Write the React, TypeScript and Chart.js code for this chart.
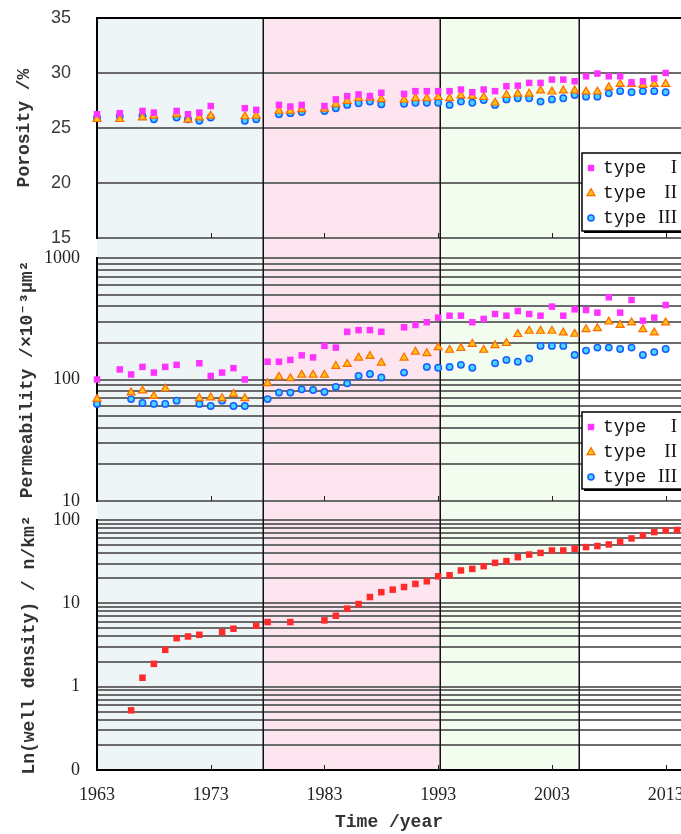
import React, { useEffect, useRef } from 'react';
import { Chart, registerables } from 'chart.js';

Chart.register(...registerables);

// ---------------- data ----------------
const X_MIN = 1963;
const X_MAX = 2014.35;
const xTickYears = [1963, 1973, 1983, 1993, 2003, 2013];
const periodBounds = [1963, 1977.6, 1993.2, 2005.4];
const periodColors = ['#edf5f6', '#fde5f0', '#f2fcef'];

const seriesNames = ['type Ⅰ', 'type Ⅱ', 'type Ⅲ'];
const seriesWords = ['type', 'type', 'type'];
const seriesNumerals = ['I', 'II', 'III'];

const porosityYears = [
  1963, 1965, 1967, 1968, 1970, 1971, 1972, 1973, 1976, 1977, 1979, 1980, 1981, 1983, 1984,
  1985, 1986, 1987, 1988, 1990, 1991, 1992, 1993, 1994, 1995, 1996, 1997, 1998, 1999, 2000,
  2001, 2002, 2003, 2004, 2005, 2006, 2007, 2008, 2009, 2010, 2011, 2012, 2013,
];
const porosityI = [
  26.25, 26.35, 26.55, 26.4, 26.55, 26.25, 26.4, 27.0, 26.8, 26.65, 27.1, 26.95, 27.1, 27.0, 27.6,
  27.9, 28.05, 27.9, 28.2, 28.1, 28.35, 28.35, 28.35, 28.35, 28.5, 28.25, 28.5, 28.35, 28.8, 28.85,
  29.1, 29.1, 29.4, 29.4, 29.25, 29.7, 29.95, 29.7, 29.7, 29.15, 29.25, 29.5, 30.0,
];
const porosityII = [
  25.8, 25.8, 25.95, 26.1, 26.25, 25.75, 25.95, 26.1, 26.05, 26.1, 26.55, 26.55, 26.7, 26.75, 27.15,
  27.45, 27.7, 27.75, 27.6, 27.55, 27.7, 27.7, 27.8, 27.7, 27.95, 27.9, 27.8, 27.3, 28.0, 28.1,
  28.1, 28.4, 28.3, 28.4, 28.4, 28.3, 28.3, 28.7, 29.0, 29.0, 28.9, 29.0, 29.0,
];
const porosityIII = [
  25.95, 26.1, 26.1, 25.8, 25.95, 25.8, 25.65, 25.95, 25.65, 25.8, 26.25, 26.35, 26.45, 26.55, 26.8,
  27.1, 27.25, 27.4, 27.15, 27.2, 27.3, 27.3, 27.3, 27.1, 27.4, 27.3, 27.55, 27.1, 27.6, 27.7,
  27.7, 27.4, 27.6, 27.7, 28.0, 27.85, 27.85, 28.15, 28.35, 28.25, 28.35, 28.35, 28.25,
];

const permYearsI = [
  1963, 1965, 1966, 1967, 1968, 1969, 1970, 1972, 1973, 1974, 1975, 1976,
  1978, 1979, 1980, 1981, 1982, 1983, 1984, 1985, 1986, 1987, 1988,
  1990, 1991, 1992, 1993, 1994, 1995, 1996, 1997, 1998, 1999, 2000, 2001,
  2002, 2003, 2004, 2005, 2006, 2007, 2008, 2009, 2010, 2011, 2012, 2013,
];
const permI = [
  100, 121, 110, 127, 114, 127, 132, 136, 107, 114, 124, 100,
  140, 140, 145, 158, 152, 189, 183, 247, 255, 255, 247,
  269, 281, 296, 323, 335, 335, 296, 315, 346, 335, 366, 346,
  335, 398, 335, 378, 373, 355, 475, 355, 451, 305, 323, 410,
];
const permYearsII = [
  1963, 1966, 1967, 1968, 1969, 1972, 1973, 1974, 1975, 1976,
  1978, 1979, 1980, 1981, 1982, 1983, 1984, 1985, 1986, 1987, 1988,
  1990, 1991, 1992, 1993, 1994, 1995, 1996, 1997, 1998, 1999, 2000, 2001,
  2002, 2003, 2004, 2005, 2006, 2007, 2008, 2009, 2010, 2011, 2012, 2013,
];
const permII = [
  69, 78, 81, 73, 84, 70, 71, 70, 76, 70,
  93, 105, 102, 109, 109, 109, 129, 134, 151, 156, 137,
  151, 169, 164, 184, 175, 181, 196, 175, 191, 199, 236, 251,
  251, 251, 243, 237, 259, 264, 299, 281, 294, 259, 243, 294,
];
const permYearsIII = [
  1963, 1966, 1967, 1968, 1969, 1970, 1972, 1973, 1974, 1975, 1976,
  1978, 1979, 1980, 1981, 1982, 1983, 1984, 1985, 1986, 1987, 1988,
  1990, 1992, 1993, 1994, 1995, 1996,
  1998, 1999, 2000, 2001, 2002, 2003, 2004, 2005, 2006, 2007, 2008, 2009, 2010, 2011, 2012, 2013,
];
const permIII = [
  63, 69, 64, 63, 63, 67, 63, 60.5, 67, 60.5, 60.5,
  69, 78, 78, 83, 82, 79, 87, 93, 107, 111, 104,
  114, 127, 125, 127, 132, 125,
  136, 145, 140, 149, 189, 189, 189, 159, 173, 183, 183, 178, 183, 159, 168, 178,
];

const wellYears = [
  1966, 1967, 1968, 1969, 1970, 1971, 1972, 1974, 1975, 1977, 1978, 1980,
  1983, 1984, 1985, 1986, 1987, 1988, 1989, 1990, 1991, 1992,
  1993, 1994, 1995, 1996, 1997, 1998, 1999, 2000, 2001, 2002,
  2003, 2004, 2005, 2006, 2007, 2008, 2009, 2010, 2011, 2012, 2013, 2014,
];
const wellDensity = [
  0.52, 1.28, 1.88, 2.77, 3.82, 4.0, 4.19, 4.52, 4.96, 5.38, 5.96, 5.96,
  6.24, 7.1, 8.63, 9.8, 11.9, 13.6, 14.6, 15.7, 17.1, 18.4,
  21.1, 21.7, 24.8, 25.9, 27.9, 30.6, 32.1, 35.8, 38.5, 40.3,
  43.1, 43.1, 45.2, 47.3, 48.7, 50.9, 54.8, 60.1, 65.3, 71.6, 75.1, 75.9,
];

const porosityTicks = [15, 20, 25, 30, 35];
const permTicks = [10, 20, 30, 40, 50, 60, 70, 80, 90, 100, 200, 300, 400, 500, 600, 700, 800, 900, 1000];
const permLabelValues = [10, 100, 1000];
const permLabelTexts = ['10', '100', '1000'];
const wellTicks = [
  0.1, 0.2, 0.3, 0.4, 0.5, 0.6, 0.7, 0.8, 0.9, 1, 2, 3, 4, 5, 6, 7, 8, 9,
  10, 20, 30, 40, 50, 60, 70, 80, 90, 100,
];
const wellLabelValues = [0.1, 1, 10, 100];
const wellLabelTexts = ['0', '1', '10', '100'];

const porosityTitle = 'Porosity /%';
const permTitle = 'Permeability /×10⁻³μm²';
const wellTitle = 'Ln(well density) / n/km²';
const timeTitle = 'Time /year';

// ---------------- styles ----------------
const FONT_SERIF = "'Liberation Serif', 'Times New Roman', serif";
const FONT_MONO = "'Liberation Mono', 'Courier New', monospace";
const FONT_SANS = "'Liberation Sans', Arial, sans-serif";
const GRID = '#6b6b6b';
const W = 681;
const Y_AXIS_W = 97;

const styleI = { pointStyle: 'rect', pointRadius: 4.6, backgroundColor: '#ff33ff', borderColor: '#ff33ff', borderWidth: 0 };
const styleII = { pointStyle: 'triangle', pointRadius: 4.6, backgroundColor: '#ffc21a', borderColor: '#ff6a00', borderWidth: 1.2 };
const styleIII = { pointStyle: 'circle', pointRadius: 3.2, backgroundColor: '#45d6ff', borderColor: '#1a5cff', borderWidth: 1.5 };
const styleWell = { pointStyle: 'rect', pointRadius: 4.6, backgroundColor: '#ff2a2a', borderColor: '#ff2a2a', borderWidth: 0 };

function zip(xs: number[], ys: number[]) {
  return xs.map((x, i) => ({ x, y: ys[i] }));
}

function labelFor(values: number[], texts: string[]) {
  return (_v: any, index: number, ticks: any[]) => {
    const v = ticks[index].value;
    for (let i = 0; i < values.length; i++) {
      if (Math.abs(v - values[i]) < values[i] * 1e-6) return texts[i];
    }
    return '';
  };
}

type Legend = { x: number; y: number; w: number; h: number; rows: number[] };

function drawMarker(ctx: CanvasRenderingContext2D, kind: number, x: number, y: number) {
  ctx.save();
  if (kind === 0) {
    ctx.fillStyle = '#ff33ff';
    ctx.fillRect(x - 3.2, y - 3.2, 6.4, 6.4);
  } else if (kind === 1) {
    ctx.beginPath();
    ctx.moveTo(x, y - 4.4);
    ctx.lineTo(x + 4, y + 2.6);
    ctx.lineTo(x - 4, y + 2.6);
    ctx.closePath();
    ctx.fillStyle = '#ffc21a';
    ctx.fill();
    ctx.strokeStyle = '#ff6a00';
    ctx.lineWidth = 1.2;
    ctx.stroke();
  } else {
    ctx.beginPath();
    ctx.arc(x, y, 3, 0, Math.PI * 2);
    ctx.fillStyle = '#45d6ff';
    ctx.fill();
    ctx.strokeStyle = '#1a5cff';
    ctx.lineWidth = 1.6;
    ctx.stroke();
  }
  ctx.restore();
}

function decorPlugin(opts: { bandFromZero: boolean; bandToCanvas: boolean; topBorder: boolean; legend?: Legend }) {
  return {
    id: 'decor',
    beforeDraw(chart: any) {
      const { ctx, chartArea } = chart;
      const xs = chart.scales.x;
      const top = opts.bandFromZero ? 0 : chartArea.top;
      const bottom = opts.bandToCanvas ? chart.height : chartArea.bottom;
      ctx.save();
      ctx.fillStyle = '#ffffff';
      ctx.fillRect(0, 0, chart.width, chart.height);
      for (let i = 0; i < periodColors.length; i++) {
        const x0 = xs.getPixelForValue(periodBounds[i]);
        const x1 = xs.getPixelForValue(periodBounds[i + 1]);
        ctx.fillStyle = periodColors[i];
        ctx.fillRect(x0, top, x1 - x0, bottom - top);
      }
      ctx.restore();
    },
    beforeDatasetsDraw(chart: any) {
      const { ctx, chartArea } = chart;
      const xs = chart.scales.x;
      const top = opts.bandFromZero ? 0 : chartArea.top;
      const bottom = opts.bandToCanvas ? chart.height : chartArea.bottom;
      ctx.save();
      ctx.strokeStyle = '#111';
      ctx.lineWidth = 1.5;
      for (let i = 1; i < periodBounds.length; i++) {
        const px = Math.round(xs.getPixelForValue(periodBounds[i])) + 0.25;
        ctx.beginPath();
        ctx.moveTo(px, top);
        ctx.lineTo(px, bottom);
        ctx.stroke();
      }
      // inner tick marks
      ctx.strokeStyle = '#222';
      ctx.lineWidth = 1;
      for (const yr of xTickYears) {
        if (yr === X_MIN) continue;
        const px = Math.round(xs.getPixelForValue(yr)) + 0.5;
        ctx.beginPath();
        ctx.moveTo(px, chartArea.bottom);
        ctx.lineTo(px, chartArea.bottom - 5);
        ctx.stroke();
      }
      if (opts.topBorder) {
        ctx.strokeStyle = '#000';
        ctx.lineWidth = 2;
        ctx.beginPath();
        ctx.moveTo(chartArea.left, chartArea.top);
        ctx.lineTo(chartArea.right, chartArea.top);
        ctx.stroke();
      }
      ctx.restore();
    },
    afterDraw(chart: any) {
      const L = opts.legend;
      if (!L) return;
      const ctx: CanvasRenderingContext2D = chart.ctx;
      ctx.save();
      ctx.fillStyle = '#000';
      ctx.fillRect(L.x + 2, L.y + 2, L.w, L.h);
      ctx.fillStyle = '#fff';
      ctx.fillRect(L.x, L.y, L.w, L.h);
      ctx.strokeStyle = '#000';
      ctx.lineWidth = 1.5;
      ctx.strokeRect(L.x, L.y, L.w, L.h);
      ctx.textBaseline = 'middle';
      ctx.fillStyle = '#111';
      for (let i = 0; i < 3; i++) {
        const ry = L.rows[i];
        drawMarker(ctx, i, L.x + 9, ry);
        ctx.font = `18px ${FONT_MONO}`;
        ctx.textAlign = 'left';
        ctx.fillText(seriesWords[i], L.x + 21, ry);
        ctx.font = `19px ${FONT_SERIF}`;
        ctx.textAlign = 'right';
        ctx.fillText(seriesNumerals[i], L.x + 95, ry);
      }
      ctx.restore();
    },
  };
}

function buildChart(
  canvas: HTMLCanvasElement,
  p: {
    datasets: any[];
    y: any;
    xShow: boolean;
    xHeight: number;
    padTop: number;
    bandFromZero: boolean;
    bandToCanvas: boolean;
    topBorder: boolean;
    legend?: Legend;
  }
) {
  return new Chart(canvas, {
    type: 'scatter',
    data: { datasets: p.datasets },
    options: {
      responsive: false,
      animation: false,
      events: [],
      layout: { autoPadding: false, padding: { top: p.padTop, left: 0, right: 0, bottom: 0 } },
      plugins: { legend: { display: false }, tooltip: { enabled: false } },
      scales: {
        x: {
          type: 'linear',
          min: X_MIN,
          max: X_MAX,
          afterBuildTicks: (s: any) => {
            s.ticks = xTickYears.map((v) => ({ value: v }));
          },
          ticks: {
            display: p.xShow,
            autoSkip: false,
            maxRotation: 0,
            padding: 14,
            color: '#222',
            font: { family: FONT_SERIF, size: 18 },
            callback: (v: any) => String(v),
          },
          grid: { display: false, drawTicks: false },
          border: { display: p.xShow, color: '#000', width: 2 },
          title: {
            display: p.xShow,
            text: timeTitle,
            color: '#333',
            font: { family: FONT_MONO, size: 18, weight: 'bold' },
            padding: { top: 0, bottom: 1 },
          },
          afterFit: (s: any) => {
            s.height = p.xHeight;
            s.paddingLeft = 0;
            s.paddingRight = 0;
          },
        },
        y: {
          ...p.y,
          position: 'left',
          afterFit: (s: any) => {
            s.width = Y_AXIS_W;
            s.paddingTop = 0;
            s.paddingBottom = 0;
          },
        },
      },
    } as any,
    plugins: [decorPlugin(p) as any],
  });
}

const scatterBase = { showLine: false, clip: false };

export default function App() {
  const refA = useRef<HTMLCanvasElement>(null);
  const refB = useRef<HTMLCanvasElement>(null);
  const refC = useRef<HTMLCanvasElement>(null);

  useEffect(() => {
    const charts: Chart[] = [];
    if (refA.current) {
      charts.push(
        buildChart(refA.current, {
          datasets: [
            { ...scatterBase, ...styleI, label: seriesNames[0], data: zip(porosityYears, porosityI) },
            { ...scatterBase, ...styleII, label: seriesNames[1], data: zip(porosityYears, porosityII) },
            { ...scatterBase, ...styleIII, label: seriesNames[2], data: zip(porosityYears, porosityIII) },
          ],
          y: {
            type: 'linear',
            min: 15,
            max: 35,
            afterBuildTicks: (s: any) => {
              s.ticks = porosityTicks.map((v) => ({ value: v }));
            },
            ticks: { color: '#3a3a3a', padding: 26, font: { family: FONT_SANS, size: 18 } },
            grid: { color: GRID, lineWidth: 2, drawTicks: false },
            border: { display: true, color: '#000', width: 2 },
            title: {
              display: true,
              text: porosityTitle,
              color: '#333',
              font: { family: FONT_MONO, size: 18, weight: 'bold' },
              padding: { top: 14, bottom: 0 },
            },
          },
          xShow: false,
          xHeight: 10,
          padTop: 18,
          bandFromZero: false,
          bandToCanvas: true,
          topBorder: true,
          legend: { x: 582, y: 153, w: 110, h: 78, rows: [168, 193, 218] },
        })
      );
    }
    if (refB.current) {
      charts.push(
        buildChart(refB.current, {
          datasets: [
            { ...scatterBase, ...styleI, label: seriesNames[0], data: zip(permYearsI, permI) },
            { ...scatterBase, ...styleII, label: seriesNames[1], data: zip(permYearsII, permII) },
            { ...scatterBase, ...styleIII, label: seriesNames[2], data: zip(permYearsIII, permIII) },
          ],
          y: {
            type: 'logarithmic',
            min: 10,
            max: 1000,
            afterBuildTicks: (s: any) => {
              s.ticks = permTicks.map((v) => ({ value: v }));
            },
            ticks: {
              autoSkip: false,
              color: '#222',
              padding: 17,
              font: { family: FONT_SERIF, size: 18 },
              callback: labelFor(permLabelValues, permLabelTexts),
            },
            grid: { color: GRID, lineWidth: 2, drawTicks: false },
            border: { display: true, color: '#000', width: 2 },
            title: {
              display: true,
              text: permTitle,
              color: '#333',
              font: { family: FONT_MONO, size: 18, weight: 'bold' },
              padding: { top: 17, bottom: 0 },
            },
          },
          xShow: false,
          xHeight: 9,
          padTop: 10,
          bandFromZero: true,
          bandToCanvas: true,
          topBorder: false,
          legend: { x: 582, y: 164, w: 110, h: 77, rows: [179, 204, 229] },
        })
      );
    }
    if (refC.current) {
      charts.push(
        buildChart(refC.current, {
          datasets: [{ ...scatterBase, ...styleWell, label: 'well density', data: zip(wellYears, wellDensity) }],
          y: {
            type: 'logarithmic',
            min: 0.1,
            max: 100,
            afterBuildTicks: (s: any) => {
              s.ticks = wellTicks.map((v) => ({ value: v }));
            },
            ticks: {
              autoSkip: false,
              color: '#222',
              padding: 17,
              font: { family: FONT_SERIF, size: 18 },
              callback: labelFor(wellLabelValues, wellLabelTexts),
            },
            grid: { color: GRID, lineWidth: 2, drawTicks: false },
            border: { display: true, color: '#000', width: 2 },
            title: {
              display: true,
              text: wellTitle,
              color: '#333',
              font: { family: FONT_MONO, size: 18, weight: 'bold' },
              padding: { top: 19, bottom: 0 },
            },
          },
          xShow: true,
          xHeight: 64,
          padTop: 10,
          bandFromZero: true,
          bandToCanvas: false,
          topBorder: false,
        })
      );
    }
    return () => {
      charts.forEach((c) => c.destroy());
    };
  }, []);

  const canvasStyle = (top: number): React.CSSProperties => ({
    position: 'absolute',
    left: 0,
    top,
    display: 'block',
  });

  return (
    <div style={{ position: 'absolute', left: 0, top: 0, width: W, height: 834, background: '#fff', overflow: 'hidden' }}>
      <canvas ref={refA} width={W} height={248} style={canvasStyle(0)} />
      <canvas ref={refB} width={W} height={262} style={canvasStyle(248)} />
      <canvas ref={refC} width={W} height={324} style={canvasStyle(510)} />
    </div>
  );
}
